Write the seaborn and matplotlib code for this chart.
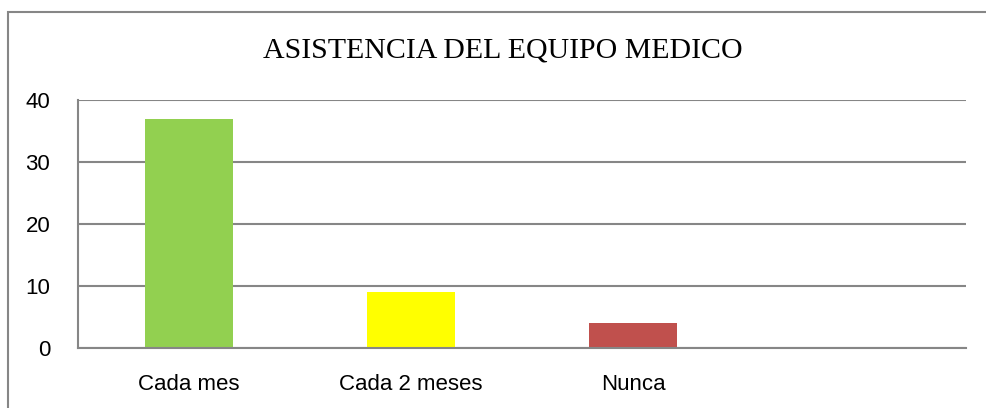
import numpy as np
import pandas as pd
import seaborn as sns
import matplotlib
matplotlib.use("Agg")
from matplotlib import pyplot as plt
from matplotlib.patches import Rectangle

# data
categorias = ["Cada mes", "Cada 2 meses", "Nunca", " "]
valores = [37, 9, 4, 0]
colores = ["#92D050", "#FFFF00", "#C0504D", "#FFFFFF"]
titulo = "ASISTENCIA DEL EQUIPO MEDICO"

sns.set_style("white")
plt.rcParams['font.family'] = ['Liberation Sans', 'DejaVu Sans']
plt.rcParams['text.color'] = 'black'

df = pd.DataFrame({"categoria": categorias, "valor": valores})

fig = plt.figure(figsize=(9.86, 4.08), dpi=100)
ax = fig.add_axes([78 / 986, 60 / 408, 888 / 986, 248 / 408])

sns.barplot(data=df, x="categoria", y="valor", hue="categoria", palette=colores,
            order=categorias, legend=False, width=0.4, linewidth=0,
            saturation=1, ax=ax)

ax.set_ylim(0, 40)
ax.set_xlim(-0.5, 3.5)
ax.set_yticks([0, 10, 20, 30, 40])
ax.yaxis.grid(True, color="#868686", linewidth=1.5)
ax.set_axisbelow(True)
ax.set_xlabel("")
ax.set_ylabel("")
ax.tick_params(axis="both", length=0, labelsize=16, colors="black")
ax.tick_params(axis="y", pad=20)
ax.tick_params(axis="x", pad=19)
for s in ["top", "right"]:
    ax.spines[s].set_visible(False)
for s in ["left", "bottom"]:
    ax.spines[s].set_color("#868686")
    ax.spines[s].set_linewidth(1.5)

fig.text(503 / 986, 1 - 51 / 408, titulo, ha="center", va="center",
         fontsize=21.5, color="black", family=["Liberation Serif", "DejaVu Serif"])

# outer chart frame
fig.patches.append(Rectangle((8 / 986, -0.1), 1.2, 1 - 12 / 408 + 0.1,
                             transform=fig.transFigure, fill=False,
                             edgecolor="#868686", linewidth=1.5))

plt.savefig("out.png", dpi=100)
plt.close()
